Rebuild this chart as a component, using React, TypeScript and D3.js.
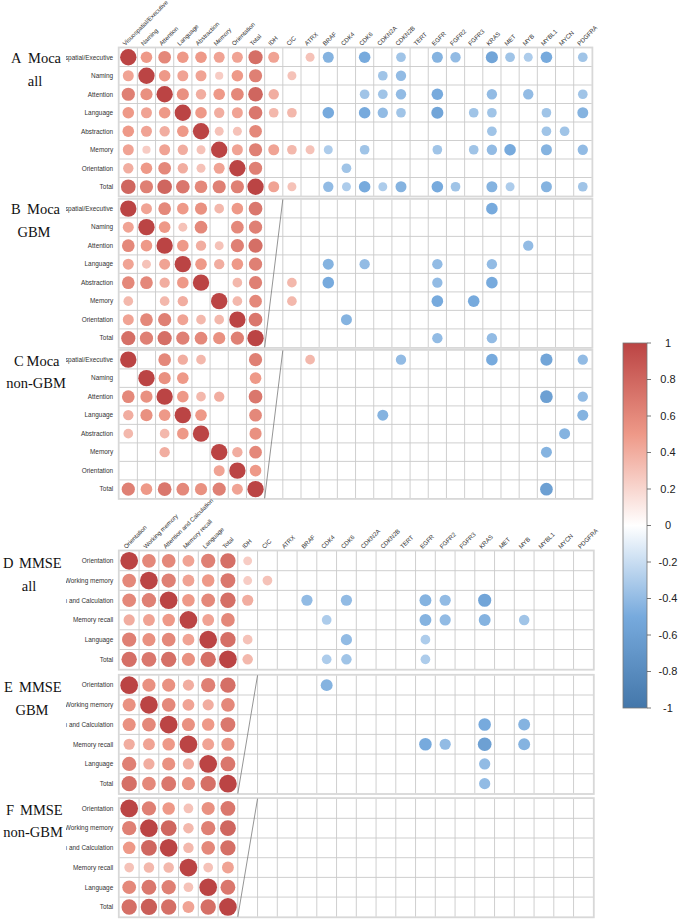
import React from 'react';
import * as d3 from 'd3';

const mocaItems = ["Visuospatial/Executive", "Naming", "Attention", "Language", "Abstraction", "Memory", "Orientation", "Total"];
const mmseItems = ["Orientation", "Working memory", "Attention and Calculation", "Memory recall", "Language", "Total"];
const genes = ["IDH", "CIC", "ATRX", "BRAF", "CDK4", "CDK6", "CDKN2A", "CDKN2B", "TERT", "EGFR", "FGFR2", "FGFR3", "KRAS", "MET", "MYB", "MYBL1", "MYCN", "PDGFRA"];

// A Moca all
const mocaAllItems = [
  [1, .5, .6, .5, .5, .45, .45, .75],
  [.45, 1, .5, .45, .45, .25, .5, .65],
  [.65, .55, 1, .55, .4, .5, .6, .8],
  [.5, .45, .5, 1, .5, .4, .45, .7],
  [.5, .45, .4, .5, 1, .3, .3, .6],
  [.45, .25, .45, .4, .3, 1, .45, .65],
  [.4, .5, .6, .4, .3, .45, 1, .65],
  [.8, .65, .8, .7, .6, .65, .65, 1],
];
const mocaAllGenes = [
  [.45, 0, .3, -.45, 0, -.5, 0, -.35, 0, -.45, -.4, 0, -.55, -.35, -.3, -.5, 0, -.35],
  [0, .3, 0, 0, 0, 0, -.35, -.4, 0, 0, 0, 0, 0, 0, 0, 0, 0, 0],
  [.4, 0, 0, 0, 0, -.35, -.35, -.4, 0, -.5, 0, 0, -.4, 0, -.4, 0, 0, -.35],
  [.35, .35, 0, -.5, 0, -.5, -.4, -.35, 0, -.55, 0, -.35, -.35, 0, 0, -.35, 0, -.45],
  [0, 0, 0, 0, 0, 0, 0, 0, 0, 0, 0, 0, -.35, 0, 0, -.35, -.35, 0],
  [.45, .35, .3, -.3, 0, -.35, 0, 0, 0, -.35, 0, -.35, -.4, -.5, 0, -.45, 0, -.4],
  [0, 0, 0, 0, -.35, 0, 0, 0, 0, 0, 0, 0, 0, 0, 0, 0, 0, 0],
  [.45, .3, 0, -.4, -.3, -.5, -.3, -.45, 0, -.5, -.35, 0, -.45, -.3, 0, -.45, 0, -.35],
];

// B Moca GBM
const mocaGbmItems = [
  [1, .45, .6, .5, .55, .35, .5, .7],
  [.45, 1, .5, .3, .6, 0, .6, .65],
  [.6, .5, 1, .5, .4, .3, .65, .75],
  [.45, .3, .45, 1, .5, .4, .5, .65],
  [.6, .6, .4, .5, 1, 0, .35, .65],
  [.35, 0, .35, .4, 0, 1, .35, .6],
  [.45, .6, .65, .45, .35, .35, 1, .7],
  [.75, .65, .75, .65, .6, .55, .65, 1],
];
const mocaGbmGenes = [
  [0, 0, 0, 0, 0, 0, 0, 0, 0, 0, 0, 0, -.5, 0, 0, 0, 0, 0],
  [0, 0, 0, 0, 0, 0, 0, 0, 0, 0, 0, 0, 0, 0, 0, 0, 0, 0],
  [0, 0, 0, 0, 0, 0, 0, 0, 0, 0, 0, 0, 0, 0, -.4, 0, 0, 0],
  [0, 0, 0, -.45, 0, -.4, 0, 0, 0, -.4, 0, 0, -.4, 0, 0, 0, 0, 0],
  [0, .35, 0, -.5, 0, 0, 0, 0, 0, -.4, 0, 0, -.5, 0, 0, 0, 0, 0],
  [0, .35, 0, 0, 0, 0, 0, 0, 0, -.5, 0, -.5, 0, 0, 0, 0, 0, 0],
  [0, 0, 0, 0, -.45, 0, 0, 0, 0, 0, 0, 0, 0, 0, 0, 0, 0, 0],
  [0, 0, 0, 0, 0, 0, 0, 0, 0, -.4, 0, 0, -.4, 0, 0, 0, 0, 0],
];

// C Moca non-GBM
const mocaNonItems = [
  [1, 0, .6, .4, .35, 0, 0, .65],
  [0, 1, .55, .5, 0, 0, 0, .5],
  [.6, .55, 1, .5, .35, .4, 0, .7],
  [.4, .55, .5, 1, .5, 0, 0, .6],
  [.35, 0, .35, .5, 1, 0, 0, .55],
  [0, 0, .4, 0, 0, 1, .4, .6],
  [0, 0, 0, 0, 0, .45, 1, .5],
  [.65, .5, .7, .6, .55, .65, .45, 1],
];
const mocaNonGenes = [
  [0, 0, .35, 0, 0, 0, 0, -.4, 0, 0, 0, 0, -.5, 0, 0, -.55, 0, -.4],
  [0, 0, 0, 0, 0, 0, 0, 0, 0, 0, 0, 0, 0, 0, 0, 0, 0, 0],
  [0, 0, 0, 0, 0, 0, 0, 0, 0, 0, 0, 0, 0, 0, 0, -.6, 0, -.4],
  [0, 0, 0, 0, 0, 0, -.45, 0, 0, 0, 0, 0, 0, 0, 0, 0, 0, -.45],
  [0, 0, 0, 0, 0, 0, 0, 0, 0, 0, 0, 0, 0, 0, 0, 0, -.45, 0],
  [0, 0, 0, 0, 0, 0, 0, 0, 0, 0, 0, 0, 0, 0, 0, -.45, 0, 0],
  [0, 0, 0, 0, 0, 0, 0, 0, 0, 0, 0, 0, 0, 0, 0, 0, 0, 0],
  [0, 0, 0, 0, 0, 0, 0, 0, 0, 0, 0, 0, 0, 0, 0, -.6, 0, 0],
];

// D MMSE all
const mmseAllItems = [
  [1, .6, .6, .45, .65, .75],
  [.6, 1, .65, .45, .5, .7],
  [.6, .65, 1, .5, .6, .75],
  [.4, .45, .5, 1, .45, .6],
  [.65, .55, .6, .45, 1, .75],
  [.75, .7, .75, .55, .75, 1],
];
const mmseAllGenes = [
  [.25, 0, 0, 0, 0, 0, 0, 0, 0, 0, 0, 0, 0, 0, 0, 0, 0, 0],
  [.25, .3, 0, 0, 0, 0, 0, 0, 0, 0, 0, 0, 0, 0, 0, 0, 0, 0],
  [.4, 0, 0, -.4, 0, -.4, 0, 0, 0, -.45, -.4, 0, -.55, 0, 0, 0, 0, 0],
  [0, 0, 0, 0, -.3, 0, 0, 0, 0, -.45, -.4, 0, -.45, 0, -.35, 0, 0, 0],
  [.3, 0, 0, 0, 0, -.4, 0, 0, 0, -.3, 0, 0, 0, 0, 0, 0, 0, 0],
  [.35, 0, 0, 0, -.3, -.35, 0, 0, 0, -.3, 0, 0, 0, 0, 0, 0, 0, 0],
];

// E MMSE GBM
const mmseGbmItems = [
  [1, .55, .55, .4, .65, .75],
  [.55, 1, .6, .45, .4, .6],
  [.55, .6, 1, .55, .5, .7],
  [.4, .45, .5, 1, .45, .55],
  [.65, .4, .55, .4, 1, .7],
  [.75, .6, .7, .55, .75, 1],
];
const mmseGbmGenes = [
  [0, 0, 0, 0, -.45, 0, 0, 0, 0, 0, 0, 0, 0, 0, 0, 0, 0, 0],
  [0, 0, 0, 0, 0, 0, 0, 0, 0, 0, 0, 0, 0, 0, 0, 0, 0, 0],
  [0, 0, 0, 0, 0, 0, 0, 0, 0, 0, 0, 0, -.5, 0, -.45, 0, 0, 0],
  [0, 0, 0, 0, 0, 0, 0, 0, 0, -.5, -.4, 0, -.6, 0, -.45, 0, 0, 0],
  [0, 0, 0, 0, 0, 0, 0, 0, 0, 0, 0, 0, -.4, 0, 0, 0, 0, 0],
  [0, 0, 0, 0, 0, 0, 0, 0, 0, 0, 0, 0, -.4, 0, 0, 0, 0, 0],
];

// F MMSE non-GBM
const mmseNonItems = [
  [1, .65, .5, .3, .55, .7],
  [.65, 1, .8, .35, .65, .8],
  [.5, .8, 1, .35, .6, .75],
  [.3, .35, .35, 1, .3, .45],
  [.6, .7, .65, .3, 1, .7],
  [.75, .85, .75, .45, .75, 1],
];
const mmseNonGenes = [
  [0, 0, 0, 0, 0, 0, 0, 0, 0, 0, 0, 0, 0, 0, 0, 0, 0, 0],
  [0, 0, 0, 0, 0, 0, 0, 0, 0, 0, 0, 0, 0, 0, 0, 0, 0, 0],
  [0, 0, 0, 0, 0, 0, 0, 0, 0, 0, 0, 0, 0, 0, 0, 0, 0, 0],
  [0, 0, 0, 0, 0, 0, 0, 0, 0, 0, 0, 0, 0, 0, 0, 0, 0, 0],
  [0, 0, 0, 0, 0, 0, 0, 0, 0, 0, 0, 0, 0, 0, 0, 0, 0, 0],
  [0, 0, 0, 0, 0, 0, 0, 0, 0, 0, 0, 0, 0, 0, 0, 0, 0, 0],
];

const colorbarTicks = [1, 0.8, 0.6, 0.4, 0.2, 0, -0.2, -0.4, -0.6, -0.8, -1];
const paletteStops = [-1, -0.5, 0, 0.5, 1];
const paletteColors = ["#4477AA", "#77AADD", "#FFFFFF", "#EE9988", "#BB4444"];

const color = d3.scaleLinear<string>().domain(paletteStops).range(paletteColors);

const SANS = "'Liberation Sans', Arial, sans-serif";
const SERIF = "'Liberation Serif', 'Times New Roman', serif";

type PanelProps = {
  items: string[];
  itemVals: number[][];
  geneVals: number[][];
  top: number;
  left: number;
  cw: number;
  ch: number;
  header: boolean;
  slash: boolean;
  letter: string;
  word: string;
  sub: string;
  letterX: number;
  wordX: number;
  subX: number;
  line1Y: number;
  line2Y: number;
};

function Panel(p: PanelProps) {
  const cols = [...p.items, ...genes];
  const nC = cols.length;
  const nR = p.items.length;
  const x = d3.scaleLinear().domain([0, nC]).range([p.left, p.left + nC * p.cw]);
  const y = d3.scaleLinear().domain([0, nR]).range([p.top, p.top + nR * p.ch]);
  const maxR = 0.45 * Math.min(p.cw, p.ch);
  const rows = p.itemVals.map((r, i) => [...r, ...p.geneVals[i]]);
  const right = x(nC);
  const bottom = y(nR);
  const nItems = p.items.length;
  return (
    <g>
      <text x={p.letterX} y={p.line1Y} fontFamily={SERIF} fontSize={14.5} fill="#111">{p.letter}</text>
      <text x={p.wordX} y={p.line1Y} fontFamily={SERIF} fontSize={14.5} fill="#111">{p.word}</text>
      <text x={p.subX} y={p.line2Y} fontFamily={SERIF} fontSize={14.5} fill="#111" textAnchor="middle">{p.sub}</text>
      <g clipPath="url(#rowclip)">
        {p.items.map((lab, i) => (
          <text key={i} x={p.left - 6} y={y(i + 0.5)} dy="0.35em" textAnchor="end" fontFamily={SANS} fontSize={6.45} fill="#333">{lab}</text>
        ))}
      </g>
      {p.header && cols.map((lab, j) => (
        <text key={j} transform={`translate(${x(j + 0.5) - 3},${p.top - 2}) rotate(-45)`} fontFamily={SANS} fontSize={6.1} fill="#333">{lab}</text>
      ))}
      <rect x={p.left} y={p.top} width={right - p.left} height={bottom - p.top} fill="white" />
      {d3.range(1, nC).map((j) => (
        <line key={'v' + j} x1={x(j)} x2={x(j)} y1={p.top} y2={bottom} stroke="#c9c9c9" strokeWidth={0.9} />
      ))}
      {d3.range(1, nR).map((i) => (
        <line key={'h' + i} x1={p.left} x2={right} y1={y(i)} y2={y(i)} stroke="#c9c9c9" strokeWidth={0.9} />
      ))}
      <rect x={p.left - 0.5} y={p.top - 0.5} width={right - p.left + 1} height={bottom - p.top + 1} fill="none" stroke="#d8d8d8" strokeWidth={1.8} />
      {rows.map((r, i) => r.map((v, j) => v === 0 ? null : (
        <circle key={i + '-' + j} cx={x(j + 0.5)} cy={y(i + 0.5)} r={maxR * Math.sqrt(Math.abs(v))} fill={color(v)} />
      )))}
      {p.slash && (
        <line x1={x(nItems + 1)} y1={p.top} x2={x(nItems)} y2={bottom} stroke="#7a7a7a" strokeWidth={0.8} />
      )}
    </g>
  );
}

export default function App() {
  const cbTop = 343, cbBottom = 708, cbLeft = 623, cbWidth = 24;
  const cy = d3.scaleLinear().domain([-1, 1]).range([cbBottom, cbTop]);
  const mocaCW = 18.18, mocaCH = 18.5, mocaLeft = 119.2;
  const mmseCW = 19.75, mmseCH = 19.7, mmseLeft = 119.3;
  return (
    <svg width={685} height={921} style={{ position: 'absolute', left: 0, top: 0, background: 'white' }}>
      <defs>
        <clipPath id="rowclip"><rect x={66} y={0} width={55} height={921} /></clipPath>
        <linearGradient id="cbgrad" x1="0" y1="1" x2="0" y2="0">
          {paletteStops.map((s, i) => (
            <stop key={i} offset={`${((s + 1) / 2) * 100}%`} stopColor={paletteColors[i]} />
          ))}
        </linearGradient>
      </defs>
      <Panel items={mocaItems} itemVals={mocaAllItems} geneVals={mocaAllGenes} top={48} left={mocaLeft} cw={mocaCW} ch={mocaCH}
        header={true} slash={false} letter="A" word="Moca" sub="all" letterX={11} wordX={28} subX={35} line1Y={62.5} line2Y={85.5} />
      <Panel items={mocaItems} itemVals={mocaGbmItems} geneVals={mocaGbmGenes} top={199.4} left={mocaLeft} cw={mocaCW} ch={mocaCH}
        header={false} slash={true} letter="B" word="Moca" sub="GBM" letterX={11} wordX={27} subX={34} line1Y={213.5} line2Y={237} />
      <Panel items={mocaItems} itemVals={mocaNonItems} geneVals={mocaNonGenes} top={350.4} left={mocaLeft} cw={mocaCW} ch={mocaCH}
        header={false} slash={true} letter="C" word="Moca" sub="non-GBM" letterX={14} wordX={26.5} subX={36} line1Y={365.5} line2Y={388} />
      <Panel items={mmseItems} itemVals={mmseAllItems} geneVals={mmseAllGenes} top={551} left={mmseLeft} cw={mmseCW} ch={mmseCH}
        header={true} slash={false} letter="D" word="MMSE" sub="all" letterX={3} wordX={19} subX={29} line1Y={568} line2Y={591} />
      <Panel items={mmseItems} itemVals={mmseGbmItems} geneVals={mmseGbmGenes} top={675.3} left={mmseLeft} cw={mmseCW} ch={mmseCH}
        header={false} slash={true} letter="E" word="MMSE" sub="GBM" letterX={4} wordX={19} subX={32} line1Y={692} line2Y={715} />
      <Panel items={mmseItems} itemVals={mmseNonItems} geneVals={mmseNonGenes} top={798.6} left={mmseLeft} cw={mmseCW} ch={mmseCH}
        header={false} slash={true} letter="F" word="MMSE" sub="non-GBM" letterX={6} wordX={20} subX={33} line1Y={814.5} line2Y={837} />
      <rect x={cbLeft} y={cbTop} width={cbWidth} height={cbBottom - cbTop} fill="url(#cbgrad)" stroke="#777" strokeWidth={0.8} />
      {colorbarTicks.map((t, i) => (
        <g key={i}>
          <line x1={cbLeft + cbWidth} x2={cbLeft + cbWidth + 4} y1={cy(t)} y2={cy(t)} stroke="#555" strokeWidth={0.8} />
          <text x={668} y={cy(t)} dy="0.35em" textAnchor="middle" fontFamily={SANS} fontSize={11} fill="#222">{t}</text>
        </g>
      ))}
    </svg>
  );
}
